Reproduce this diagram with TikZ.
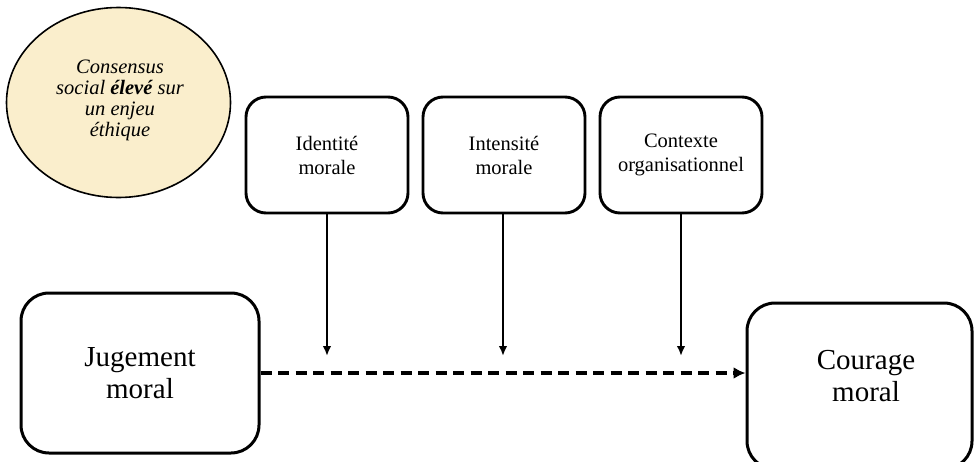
\documentclass[tikz,border=0pt]{standalone}
\usepackage{fontspec}
\setmainfont{Liberation Serif}
\usetikzlibrary{arrows.meta,shapes.geometric}

\definecolor{consensusfill}{RGB}{250,238,204}

\tikzset{
  smallbox/.style={draw, line width=2.9pt, rounded corners=20pt,
    minimum width=162pt, minimum height=116pt, inner sep=0pt,
    align=center, font=\fontsize{20.5}{24}\selectfont},
  bigbox/.style={draw, line width=3pt, rounded corners=28pt,
    inner sep=0pt, align=center, font=\fontsize{29}{32}\selectfont},
  bigtext/.style={inner sep=0pt, align=center, font=\fontsize{29}{32}\selectfont},
  consensus/.style={draw, line width=1.6pt, fill=consensusfill, ellipse,
    minimum width=224pt, minimum height=190pt, inner sep=0pt},
  consensustext/.style={inner sep=0pt, align=center,
    font=\fontsize{20.5}{21}\selectfont\itshape},
  influence/.style={line width=2.1pt, -{Latex[length=10pt,width=8.5pt]}},
  mainlink/.style={line width=3.8pt, dash pattern=on 11pt off 6.5pt,
    -{Latex[length=12pt,width=12pt]}}
}

\begin{document}
\begin{tikzpicture}[x=1pt, y=-1pt]
  \useasboundingbox (0,0) rectangle (974,461);

  % contextual condition
  \node[consensus] (cons) at (118.5,102.5) {};
  \node[consensustext] (consLbl) at (120,100)
    {Consensus\\social \textbf{élevé} sur\\un enjeu\\éthique};

  % moderating factors
  \node[smallbox] (ident) at (327,155) {Identité\\morale};
  \node[smallbox] (inten) at (504,155) {Intensité\\morale};
  \node[smallbox] (ctx)   at (681,155) {Contexte\\organisationnel};

  % main constructs
  \node[bigbox, minimum width=238pt, minimum height=160pt]
    (jug) at (140,373) {Jugement\\moral};
  \node[bigbox, minimum width=225pt, minimum height=166pt]
    (cour) at (859.5,386) {};
  \node[bigtext] (courLbl) at (866,376) {Courage\\moral};

  % ends of the moderating arrows, just above the main link
  \coordinate (identEnd) at (327,356);
  \coordinate (intenEnd) at (503,356);
  \coordinate (ctxEnd)   at (681,356);

  \draw[influence] (ident.south) -- (identEnd);
  \draw[influence] (inten.south -| intenEnd) -- (intenEnd);
  \draw[influence] (ctx.south) -- (ctxEnd);

  % main relation
  \draw[mainlink] (jug.east) -- (jug.east -| cour.west);
\end{tikzpicture}
\end{document}
